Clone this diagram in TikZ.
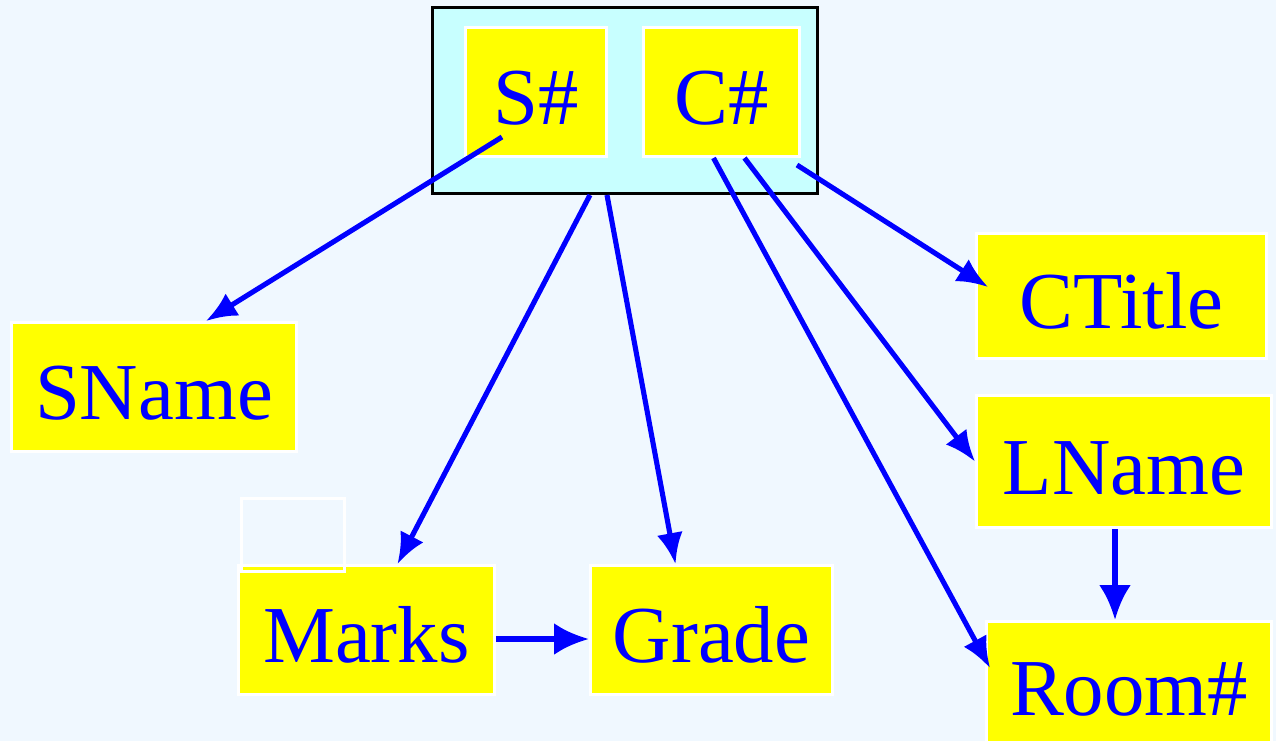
\documentclass[tikz,border=0pt]{standalone}
\usepackage{fontspec}
\setmainfont{Liberation Serif}
\usetikzlibrary{arrows.meta}
\usetikzlibrary{calc}
\definecolor{paper}{HTML}{F0F8FF}
\definecolor{keyfill}{HTML}{C8FFFF}
\definecolor{attrfill}{HTML}{FFFF00}
\definecolor{linkblue}{HTML}{0000FF}

\tikzset{
	attr/.style={draw=white, line width=1.7pt, fill=attrfill, inner sep=0pt,
		text=linkblue, text height=1.3cm, text depth=0pt,
		font=\fontsize{46}{50}\selectfont},
	link/.style={draw=linkblue, line width=2.9pt, -{Latex[length=0.62cm,width=0.52cm]}},
	biglink/.style={link, line width=3.4pt, -{Latex[length=0.7cm,width=0.64cm]}},
}

\newcommand{\attrbox}[6] % name, left, top, right, bottom (in px), label
{
	\node[attr, minimum width={(#4-#2-3)*0.02cm}, minimum height={(#5-#3-3)*0.02cm}]
		(#1) at ({(#2+#4)/2},{(#3+#5)/2}) {#6};
}

\begin{document}
\begin{tikzpicture}[x=0.02cm, y=-0.02cm]
	% 1276 x 741 px, y runs downwards
	\fill[paper] (0,0) rectangle (1276,741);
	\useasboundingbox (0,0) rectangle (1276,741);
	
	% composite key
	\node[draw=black, line width=1.7pt, fill=keyfill, minimum width={385*0.02cm},
		minimum height={186*0.02cm}] (key) at (625,100.5) {};
	\attrbox{sid}{464}{26}{608}{158}{S\#}
	\attrbox{cid}{642}{26}{801}{158}{C\#}
	
	\attrbox{sname}{10}{321}{298}{453}{SName}
	\attrbox{marks}{237}{564}{496}{696}{Marks}
	\attrbox{grade}{589}{564}{834}{696}{Grade}
	\attrbox{ctitle}{975}{232}{1268}{360}{CTitle}
	\attrbox{lname}{975}{394}{1273}{529}{LName}
	\attrbox{room}{985}{620}{1273}{746}{Room\#}
	
	% empty frame over Marks
	\node[draw=white, line width=1.7pt, minimum width={103*0.02cm},
		minimum height={73*0.02cm}] (blank) at (293,535) {};
	
	% dependencies
	\draw[link] ($(sid.south)+(-34,-21)$) -- ($(sname.north)+(52,0)$);
	\draw[link] ($(key.south)+(-35,0)$) -- ($(marks.north)+(31,0)$);
	\draw[link] ($(key.south)+(-18,0)$) -- ($(grade.north)+(-36,0)$);
	\draw[link] ($(cid.south)+(-8,0)$) -- ($(room.north west)+(5,48)$);
	\draw[link] ($(cid.south)+(23,0)$) -- (lname.west);
	\draw[link] ($(cid.south east)+(-4,7)$) -- ($(ctitle.west)+(13,-9)$);
	\draw[biglink] ($(marks.east)+(0,9)$) -- ($(grade.west)+(0,9)$);
	\draw[biglink] ($(lname.south)+(-9,0)$) -- ($(room.north)+(-14,0)$);
	
\end{tikzpicture}
\end{document}
